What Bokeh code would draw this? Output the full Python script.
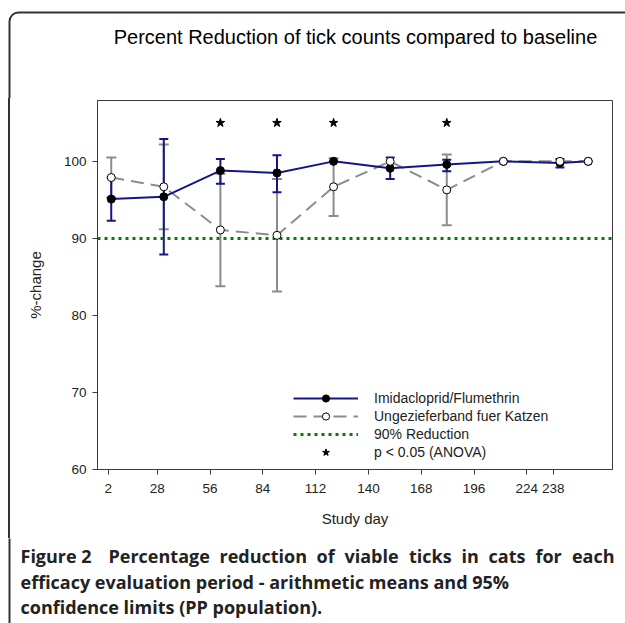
from bokeh.plotting import figure
from bokeh.layouts import column
from bokeh.models import (Range1d, LinearAxis, FixedTicker, ColumnDataSource, Whisker,
                          TeeHead, Legend, LegendItem, Label, BoxAnnotation)
from bokeh.embed import file_html
from bokeh.resources import INLINE

# ---------------- data ----------------
days = [2, 28, 56, 84, 112, 140, 168, 196, 224, 238]
imid_mean = [95.1, 95.4, 98.8, 98.5, 100.0, 99.1, 99.6, 100.0, 99.8, 100.0]
imid_lo = [92.3, 87.9, 97.1, 96.0, None, 97.7, 98.7, None, 99.2, None]
imid_hi = [97.9, 102.9, 100.3, 100.8, None, 100.5, 100.2, None, 100.3, None]
band_mean = [97.9, 96.7, 91.1, 90.4, 96.7, 100.0, 96.3, 100.0, 100.0, 100.0]
band_lo = [95.3, 91.2, 83.8, 83.1, 92.9, None, 91.7, None, None, None]
band_hi = [100.5, 102.2, 98.4, 97.7, 100.4, None, 100.9, None, None, None]
sig_days = [56, 84, 112, 168]
sig_level = 105
threshold = 90
x_ticks = [2, 28, 56, 84, 112, 140, 168, 196, 224, 238]
y_ticks = [60, 70, 80, 90, 100]

series_names = ["Imidacloprid/Flumethrin", "Ungezieferband fuer Katzen"]
threshold_name = "90% Reduction"
sig_name = "p < 0.05 (ANOVA)"
title_text = "Percent Reduction of tick counts compared to baseline"
caption_bold = "Figure 2"
caption_lines = ["Percentage reduction of viable ticks in cats for each",
                 "efficacy evaluation period - arithmetic means and 95%",
                 "confidence limits (PP population)."]

# ---------------- styling ----------------
BLUE = "#15158a"
GRAY = "#8c8c8c"
GREEN = "#008000"
AX = "#3a3a3a"
TXT = "#222222"
FRAME = "#333333"
FONT = "Liberation Sans"
CAP_FONT = "Open Sans"

W = 625
TOP_H, MAIN_H, CAP_H = 98, 440, 85
FL, FR, FT, FB = 97, 13, 2, 69

X_LO, X_HI = -4.8, 250.0
Y_LO, Y_HI = 60, 107.9


def blank(h):
    f = figure(width=W, height=h, output_backend="svg", toolbar_location=None, title=None,
               x_axis_type=None, y_axis_type=None, min_border=0, frame_align=False,
               x_range=Range1d(0, 1), y_range=Range1d(0, 1))
    f.outline_line_color = None
    f.background_fill_color = "white"
    f.border_fill_color = "white"
    return f


def frame_box(top_px, radius):
    return BoxAnnotation(left=9, right=W + 300, top=top_px, bottom=-300,
                         left_units="screen", right_units="screen",
                         top_units="screen", bottom_units="screen",
                         fill_alpha=0, line_color=FRAME, line_alpha=1, line_width=2,
                         border_radius=radius)


# ---------------- top: title ----------------
top = blank(TOP_H)
top.add_layout(frame_box(TOP_H - 12, 9))
top.add_layout(Label(x=355, y=TOP_H - 36.5, x_units="screen", y_units="screen",
                     text=title_text, text_font=FONT, text_font_size="20px",
                     text_color="black", text_align="center", text_baseline="middle"))

# ---------------- main chart ----------------
p = figure(width=W, height=MAIN_H, output_backend="svg", toolbar_location=None, title=None,
           x_range=Range1d(X_LO, X_HI), y_range=Range1d(Y_LO, Y_HI), x_axis_type=None,
           frame_align=False,
           min_border_left=FL, min_border_right=FR, min_border_top=FT, min_border_bottom=FB)
p.background_fill_color = "white"
p.border_fill_alpha = 0
p.styles = {"background": "linear-gradient(to right, #ffffff 0px, #ffffff 8px, "
                          "#333333 8px, #333333 10px, #ffffff 10px)"}
p.outline_line_color = AX
p.outline_line_width = 1
p.ygrid.visible = False

p.extra_x_ranges = {"axis": Range1d(-3.67, 269.45)}
xaxis = LinearAxis(x_range_name="axis", ticker=FixedTicker(ticks=x_ticks))
p.add_layout(xaxis, "below")

for ax in (p.yaxis[0], xaxis):
    ax.axis_line_color = AX
    ax.major_tick_line_color = AX
    ax.major_tick_out = 5
    ax.major_tick_in = 0
    ax.minor_tick_line_color = None
    ax.major_label_text_font = FONT
    ax.major_label_text_font_size = "13.5px"
    ax.major_label_text_color = TXT
    ax.axis_label_text_font = FONT
    ax.axis_label_text_font_size = "15px"
    ax.axis_label_text_font_style = "normal"
    ax.axis_label_text_color = TXT

p.yaxis.ticker = FixedTicker(ticks=y_ticks)
p.yaxis.major_label_standoff = 6
p.yaxis.axis_label = "%-change"
p.yaxis.axis_label_standoff = 17
xaxis.major_label_standoff = 9
xaxis.axis_label = "Study day"
xaxis.axis_label_standoff = 14


def pick(lo, hi):
    idx = [i for i in range(len(days)) if lo[i] is not None]
    return ColumnDataSource(dict(x=[days[i] for i in idx],
                                 lo=[lo[i] for i in idx],
                                 hi=[hi[i] for i in idx]))


gray_err = Whisker(source=pick(band_lo, band_hi), base="x", lower="lo", upper="hi",
                   line_color=GRAY, line_width=2, level="underlay",
                   upper_head=TeeHead(size=10, line_color=GRAY, line_width=2),
                   lower_head=TeeHead(size=10, line_color=GRAY, line_width=2))
blue_err = Whisker(source=pick(imid_lo, imid_hi), base="x", lower="lo", upper="hi",
                   line_color=BLUE, line_width=2, level="underlay",
                   upper_head=TeeHead(size=9, line_color=BLUE, line_width=2),
                   lower_head=TeeHead(size=9, line_color=BLUE, line_width=2))
p.add_layout(gray_err)
p.add_layout(blue_err)

thr_line = p.line(x=[X_LO, X_HI], y=[threshold, threshold], line_color=GREEN,
                  line_width=3, line_dash="3 4")

src = ColumnDataSource(dict(day=days, imid=imid_mean, band=band_mean))
gray_line = p.line("day", "band", source=src, line_color=GRAY, line_width=2, line_dash="13 7")
blue_line = p.line("day", "imid", source=src, line_color=BLUE, line_width=2)
blue_pts = p.scatter("day", "imid", source=src, marker="circle", size=8,
                     fill_color="black", line_color="black")
gray_pts = p.scatter("day", "band", source=src, marker="circle", size=8,
                     fill_color="white", line_color="black", line_width=1)

sig_src = ColumnDataSource(dict(x=sig_days, y=[sig_level] * len(sig_days)))
stars = p.scatter("x", "y", source=sig_src, marker="star", size=9,
                  fill_color="black", line_color="black")

legend = Legend(items=[
    LegendItem(label=series_names[0], renderers=[blue_line, blue_pts]),
    LegendItem(label=series_names[1], renderers=[gray_line, gray_pts]),
    LegendItem(label=threshold_name, renderers=[thr_line]),
    LegendItem(label=sig_name, renderers=[stars]),
], location=(196, 8), glyph_width=65, glyph_height=18, label_height=18,
    label_standoff=16, spacing=0, padding=0, margin=0,
    border_line_alpha=0, background_fill_alpha=0,
    label_text_font=FONT, label_text_font_size="14px", label_text_color=TXT)
p.add_layout(legend)

# ---------------- caption ----------------
cap = blank(CAP_H)
cap.add_layout(frame_box(CAP_H + 300, 0))
cap_y = [CAP_H - 17, CAP_H - 43, CAP_H - 68]


def cap_label(x, y, text, align="left"):
    return Label(x=x, y=y, x_units="screen", y_units="screen", text=text,
                 text_font=CAP_FONT, text_font_size="18px", text_font_style="bold",
                 text_color=TXT, text_align=align, text_baseline="middle")


cap.add_layout(cap_label(20, cap_y[0], caption_bold))
# first caption line is justified to the full width: place its words one by one
words = caption_lines[0].split(" ")
word_x = [108, 219, 316, 344, 408.5, 461, 488, 535]
for wx, wd in zip(word_x, words[:-1]):
    cap.add_layout(cap_label(wx, cap_y[0], wd))
cap.add_layout(cap_label(614, cap_y[0], words[-1], align="right"))
for yy, line in zip(cap_y[1:], caption_lines[1:]):
    cap.add_layout(cap_label(20, yy, line))

layout = column(top, p, cap, spacing=0)
open("out.html", "w").write(file_html(layout, INLINE))
